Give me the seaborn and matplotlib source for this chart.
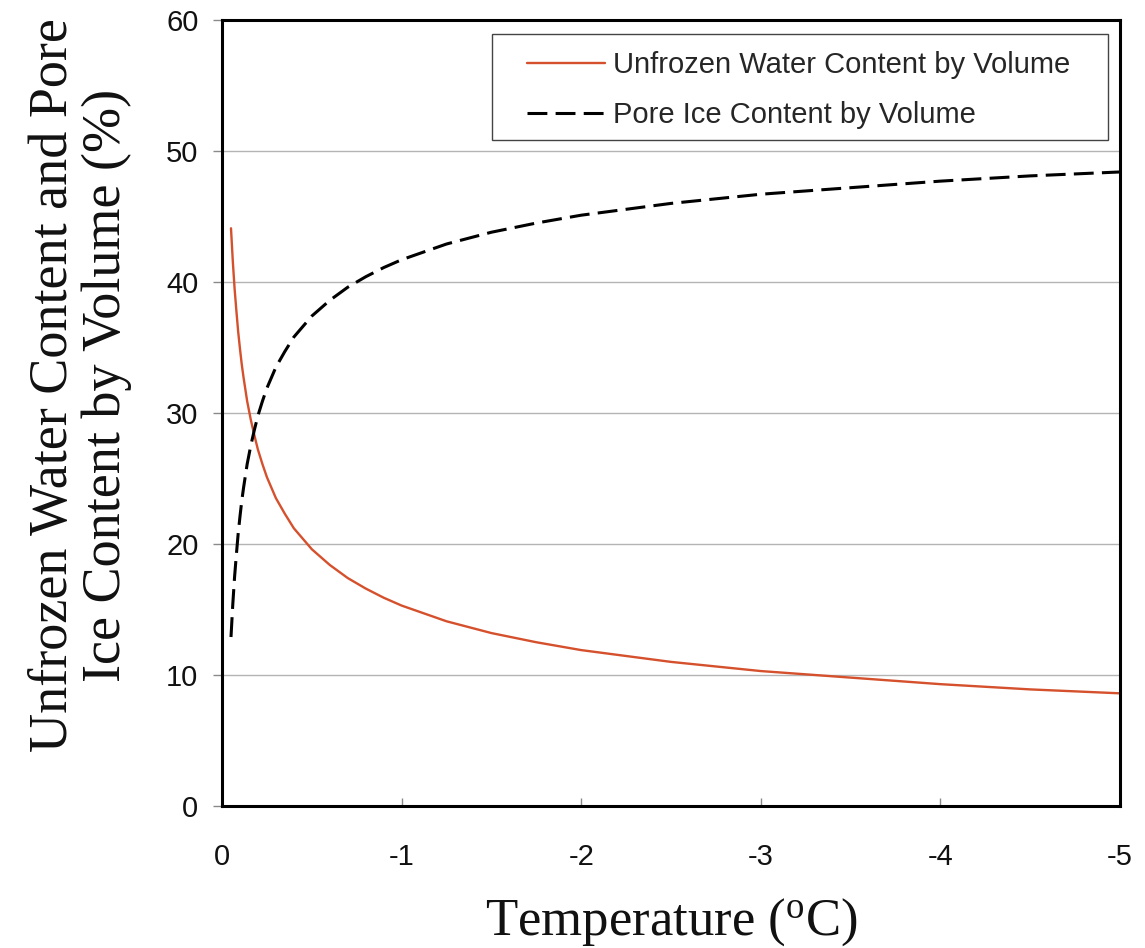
import matplotlib
matplotlib.use("Agg")
import matplotlib.pyplot as plt
from matplotlib.patches import Rectangle
import seaborn as sns
import pandas as pd

# Temperature (degrees C) and volumetric contents (%)
temperature = [-0.05, -0.06, -0.07, -0.08, -0.09, -0.10, -0.11, -0.12, -0.14, -0.16,
               -0.18, -0.20, -0.225, -0.25, -0.275, -0.30, -0.35, -0.40, -0.45, -0.50,
               -0.60, -0.70, -0.80, -0.90, -1.00, -1.25, -1.50, -1.75, -2.00, -2.50,
               -3.00, -3.50, -4.00, -4.50, -5.00]
unfrozen_water = [44.1, 41.6, 39.5, 37.8, 36.2, 34.9, 33.7, 32.7, 30.9, 29.5,
                  28.3, 27.2, 26.1, 25.1, 24.3, 23.5, 22.3, 21.2, 20.4, 19.6,
                  18.4, 17.4, 16.6, 15.9, 15.3, 14.1, 13.2, 12.5, 11.9, 11.0,
                  10.3, 9.8, 9.3, 8.9, 8.6]
pore_ice = [12.9, 15.4, 17.5, 19.2, 20.8, 22.1, 23.3, 24.3, 26.1, 27.5,
            28.7, 29.8, 30.9, 31.9, 32.7, 33.5, 34.7, 35.8, 36.6, 37.4,
            38.6, 39.6, 40.4, 41.1, 41.7, 42.9, 43.8, 44.5, 45.1, 46.0,
            46.7, 47.2, 47.7, 48.1, 48.4]
series_names = ["Unfrozen Water Content by Volume", "Pore Ice Content by Volume"]
x_ticks = [0, -1, -2, -3, -4, -5]
x_tick_labels = ["0", "-1", "-2", "-3", "-4", "-5"]
y_ticks = [0, 10, 20, 30, 40, 50, 60]

df = pd.concat([
    pd.DataFrame({"T": temperature, "v": unfrozen_water, "s": series_names[0]}),
    pd.DataFrame({"T": temperature, "v": pore_ice, "s": series_names[1]}),
])

sns.set_theme(style="white")
plt.rcParams["font.family"] = ["Liberation Sans", "DejaVu Sans"]
plt.rcParams["mathtext.fontset"] = "custom"
plt.rcParams["mathtext.rm"] = "Liberation Serif"

fig = plt.figure(figsize=(11.45, 9.48), dpi=100)
ax = fig.add_axes([0.1939, 0.1498, 0.7843, 0.8291])

sns.lineplot(data=df, x="T", y="v", hue="s", style="s",
             palette={series_names[0]: "#d5502c", series_names[1]: "black"},
             dashes={series_names[0]: "", series_names[1]: (6.5, 2.7)},
             ax=ax, legend=True, sort=False)
for line, lw in zip(ax.lines, [1.7, 2.2]):
    line.set_linewidth(lw)

ax.set_xlim(0, -5)
ax.set_ylim(0, 60)
ax.set_xticks(x_ticks)
ax.set_xticklabels(x_tick_labels)
ax.set_yticks(y_ticks)
ax.yaxis.grid(True, color="#b4b4b4", linewidth=1.0)
ax.xaxis.grid(False)
for sp in ax.spines.values():
    sp.set_visible(True)
    sp.set_color("black")
    sp.set_linewidth(2.2)
    sp.set_zorder(3)

ax.tick_params(axis="y", direction="out", length=6.5, width=1, color="#8a8a8a",
               labelsize=21, labelcolor="#111111", pad=10.5, left=True)
ax.tick_params(axis="x", direction="in", length=6, width=1, color="#8a8a8a",
               labelsize=21, labelcolor="#111111", pad=27, bottom=True)

ax.set_xlabel(r"Temperature ($\mathregular{^{o}}$C)", family="Liberation Serif",
              fontsize=38, color="#111111")
ax.xaxis.label.set_va("baseline")
ax.xaxis.set_label_coords(0.5, -0.164)

ax.set_ylabel("Unfrozen Water Content and Pore\nIce Content by Volume (%)",
              family="Liberation Serif", fontsize=39, linespacing=1.07, color="#111111")
ax.yaxis.set_label_coords(-0.1002, 0.5356)

# Legend entries without their own frame; a separate box is drawn around them
leg = ax.legend(loc="upper left", bbox_to_anchor=(0.3396, 0.9606), fontsize=21,
                frameon=False, handlelength=2.67, handletextpad=0.27,
                borderpad=0, borderaxespad=0, labelspacing=0.75)
for h, lw in zip(leg.get_lines(), [1.7, 2.2]):
    h.set_linewidth(lw)
ax.add_patch(Rectangle((0.3007, 0.8473), 0.6859, 0.1349, transform=ax.transAxes,
                       fill=False, edgecolor="#444444", linewidth=1.0, zorder=4))

fig.savefig("out.png", dpi=100, facecolor="white")
